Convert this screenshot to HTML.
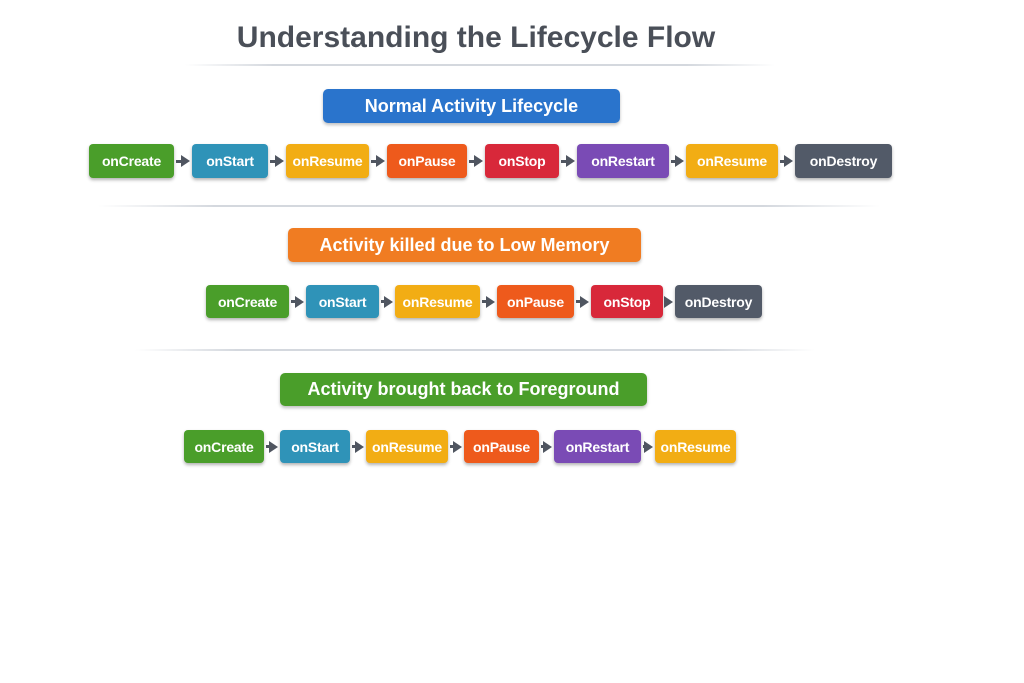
<!DOCTYPE html>
<html><head><style>
body{margin:0;width:1024px;height:683px;background:#fff;position:relative;overflow:hidden;font-family:"Liberation Sans",sans-serif}
.t{position:absolute;left:0;width:952px;top:21px;text-align:center;font-size:30px;font-weight:bold;color:#4a4f58}
.l{position:absolute;height:2px;background:linear-gradient(90deg,transparent,#d4d8de 15%,#d4d8de 85%,transparent)}
.h{position:absolute;color:#fff;font-weight:bold;font-size:18px;display:flex;align-items:center;justify-content:center;border-radius:5px;box-shadow:0 2px 3px rgba(0,0,0,.25)}
.b{position:absolute;color:#fff;font-weight:bold;font-size:14px;letter-spacing:-0.2px;display:flex;align-items:center;justify-content:center;border-radius:4px;box-shadow:0 2px 3px rgba(0,0,0,.3)}
.a{position:absolute;width:0;height:0;border-top:6px solid transparent;border-bottom:6px solid transparent;border-left:9px solid #4f5560}
.s{position:absolute;height:3px;background:#4f5560}
.g{background:#4a9e2a}.c{background:#2f93b8}.y{background:#f2ad14}.o{background:#ee5a1c}.r{background:#d8283a}.p{background:#7a4bb5}.d{background:#525a68}
</style></head><body>
<div class="t">Understanding the Lifecycle Flow</div>
<div class="l" style="left:185px;width:590px;top:64px"></div>
<div class="l" style="left:98px;width:782px;top:205px"></div>
<div class="l" style="left:135px;width:680px;top:349px"></div>
<div class="h" style="left:323px;width:297px;top:89px;height:34px;background:#2a74cc">Normal Activity Lifecycle</div>
<div class="h" style="left:288px;width:353px;top:228px;height:34px;background:#f07c22">Activity killed due to Low Memory</div>
<div class="h" style="left:280px;width:367px;top:373px;height:33px;background:#4a9e2a">Activity brought back to Foreground</div>
<div id="rows"></div>
<script>
const rows=[
[144,34,[[89,174,'g','onCreate'],[192,268,'c','onStart'],[286,369,'y','onResume'],[387,467,'o','onPause'],[485,559,'r','onStop'],[577,669,'p','onRestart'],[686,778,'y','onResume'],[795,892,'d','onDestroy']]],
[285,33,[[206,289,'g','onCreate'],[306,379,'c','onStart'],[395,480,'y','onResume'],[497,574,'o','onPause'],[591,663,'r','onStop'],[675,762,'d','onDestroy']]],
[430,33,[[184,264,'g','onCreate'],[280,350,'c','onStart'],[366,448,'y','onResume'],[464,539,'o','onPause'],[554,641,'p','onRestart'],[655,736,'y','onResume']]]];
let h='';
for(const [top,ht,bs] of rows){
 bs.forEach((b,i)=>{
  h+=`<div class="b ${b[2]}" style="left:${b[0]}px;width:${b[1]-b[0]}px;top:${top}px;height:${ht}px">${b[3]}</div>`;
  if(i<bs.length-1){const x1=b[1]+2,x2=bs[i+1][0]-2,cy=top+ht/2;
   h+=`<div class="s" style="left:${x1}px;width:${x2-x1-8}px;top:${cy-1.5}px"></div><div class="a" style="left:${x2-9}px;top:${cy-6}px"></div>`;}
 });
}
document.getElementById('rows').innerHTML=h;
</script>
</body></html>
